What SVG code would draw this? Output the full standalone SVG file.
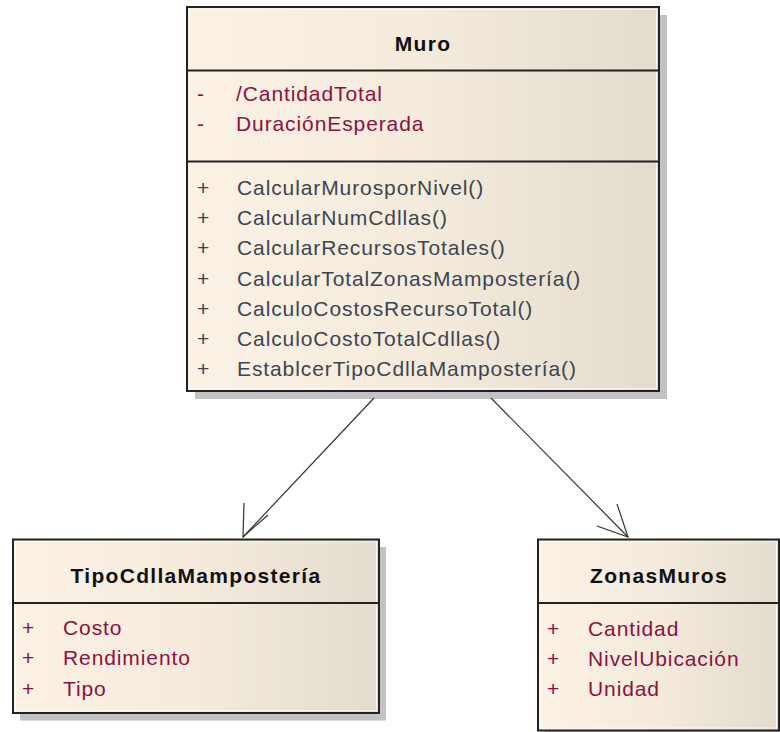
<svg xmlns="http://www.w3.org/2000/svg" width="780" height="732" viewBox="0 0 780 732">
  <defs>
    <linearGradient id="classFill" x1="0" y1="0" x2="1" y2="0">
      <stop offset="0" stop-color="#fbf1e4"/>
      <stop offset="0.5" stop-color="#f4ebdd"/>
      <stop offset="1" stop-color="#e3dbcd"/>
    </linearGradient>
    <style>
      .shadow { fill: #c2c2c2; }
      .box { fill: url(#classFill); stroke: #222; stroke-width: 2; }
      .inner { fill: none; stroke: #fffaf1; stroke-width: 1; opacity: 0.8; }
      .divider { stroke: #222; stroke-width: 2; }
      .title { font-family: "Liberation Sans", Arial, sans-serif; font-size: 21px; font-weight: bold; fill: #111; letter-spacing: 1.3px; text-anchor: middle; }
      .attr { font-family: "Liberation Sans", Arial, sans-serif; font-size: 21px; fill: #8e1040; letter-spacing: 0.9px; }
      .op { font-family: "Liberation Sans", Arial, sans-serif; font-size: 21px; fill: #3b4650; letter-spacing: 0.9px; }
      .conn { stroke: #333; stroke-width: 1.2; fill: none; }
    </style>
  </defs>

  <!-- class Muro -->
  <g id="muro">
    <rect class="shadow" x="195" y="15" width="472" height="384"/>
    <rect class="box" x="187" y="7" width="472" height="384"/>
    <rect class="inner" x="189.5" y="9.5" width="467" height="379"/>
    <line class="divider" x1="187" y1="70.5" x2="659" y2="70.5"/>
    <line class="divider" x1="187" y1="161.5" x2="659" y2="161.5"/>
    <text class="title" x="423" y="50.5">Muro</text>
    <text class="attr" x="197" y="100.5">-</text>
    <text class="attr" x="236" y="100.5">/CantidadTotal</text>
    <text class="attr" x="197" y="130.5">-</text>
    <text class="attr" x="236" y="130.5">DuraciónEsperada</text>
    <text class="op" x="197" y="195">+</text>
    <text class="op" x="237" y="195">CalcularMurosporNivel()</text>
    <text class="op" x="197" y="225.2">+</text>
    <text class="op" x="237" y="225.2">CalcularNumCdllas()</text>
    <text class="op" x="197" y="255.4">+</text>
    <text class="op" x="237" y="255.4">CalcularRecursosTotales()</text>
    <text class="op" x="197" y="285.6">+</text>
    <text class="op" x="237" y="285.6">CalcularTotalZonasMampostería()</text>
    <text class="op" x="197" y="315.8">+</text>
    <text class="op" x="237" y="315.8">CalculoCostosRecursoTotal()</text>
    <text class="op" x="197" y="346">+</text>
    <text class="op" x="237" y="346">CalculoCostoTotalCdllas()</text>
    <text class="op" x="197" y="376.2">+</text>
    <text class="op" x="237" y="376.2">EstablcerTipoCdllaMampostería()</text>
  </g>

  <!-- class TipoCdllaMampostería -->
  <g id="tipoCdllaMamposteria">
    <rect class="shadow" x="20" y="547" width="366" height="173.5"/>
    <rect class="box" x="13" y="539.5" width="366" height="173.5"/>
    <rect class="inner" x="15.5" y="542" width="361" height="168.5"/>
    <line class="divider" x1="13" y1="603" x2="379" y2="603"/>
    <text class="title" x="196" y="583">TipoCdllaMampostería</text>
    <text class="attr" x="22" y="634.5">+</text>
    <text class="attr" x="63" y="634.5">Costo</text>
    <text class="attr" x="22" y="665">+</text>
    <text class="attr" x="63" y="665">Rendimiento</text>
    <text class="attr" x="22" y="695.5">+</text>
    <text class="attr" x="63" y="695.5">Tipo</text>
  </g>

  <!-- class ZonasMuros -->
  <g id="zonasMuros">
    <rect class="shadow" x="545" y="547" width="241" height="191"/>
    <rect class="box" x="538" y="539.5" width="241" height="191"/>
    <rect class="inner" x="540.5" y="542" width="236" height="186"/>
    <line class="divider" x1="538" y1="603" x2="779" y2="603"/>
    <text class="title" x="659" y="583">ZonasMuros</text>
    <text class="attr" x="547" y="635.5">+</text>
    <text class="attr" x="588" y="635.5">Cantidad</text>
    <text class="attr" x="547" y="665.5">+</text>
    <text class="attr" x="588" y="665.5">NivelUbicación</text>
    <text class="attr" x="547" y="695.5">+</text>
    <text class="attr" x="588" y="695.5">Unidad</text>
  </g>

  <!-- directed associations with open arrowheads -->
  <g id="connectors">
    <line class="conn" x1="374" y1="398" x2="243" y2="537"/>
    <polyline class="conn" points="244,503 243,537 268,515"/>
    <line class="conn" x1="491" y1="398" x2="628" y2="537"/>
    <polyline class="conn" points="617,504 628,537 597,526"/>
  </g>
</svg>
